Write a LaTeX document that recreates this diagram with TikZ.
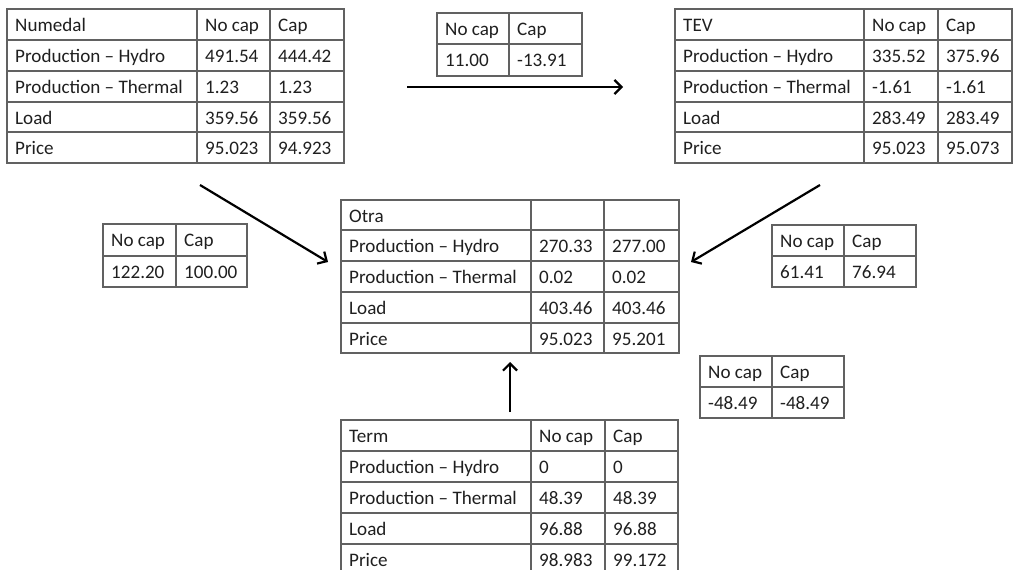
\documentclass[tikz,border=0pt]{standalone}
\usepackage{fontspec}
\setmainfont{Carlito}
\usetikzlibrary{arrows.meta}

% grid lines of one table: x-list, top, bottom, y-list, left, right
\newcommand\tabgrid[6]{%
  \foreach \gx in {#1} \draw[rule] (\gx,#2) -- (\gx,#3);
  \foreach \gy in {#4} \draw[rule] (#5,\gy) -- (#6,\gy);}
% one row of three cells: name, baseline, three x positions, three texts
\newcommand\rowthree[8]{%
  \node[txt] (#1-a) at (#3,#2) {#6};
  \node[txt] (#1-b) at (#4,#2) {#7};
  \node[txt] (#1-c) at (#5,#2) {#8};}
% one row of two cells: name, baseline, two x positions, two texts
\newcommand\rowtwo[6]{%
  \node[txt] (#1-a) at (#3,#2) {#5};
  \node[txt] (#1-b) at (#4,#2) {#6};}

\tikzset{
  rule/.style={draw=black!62, line width=1.1pt, line cap=rect},
  txt/.style={anchor=base west, inner sep=0pt, text=black!88,
              font=\fontsize{19.1}{22}\selectfont},
  flow/.style={draw=black, line width=2.2pt,
               -{Straight Barb[length=7pt,width=14pt,line width=2.2pt]}}
}

\begin{document}
\begin{tikzpicture}[x=1pt,y=-1pt]
\useasboundingbox (0,0) rectangle (1013,570);
\clip (0,0) rectangle (1013,570);

% Numedal
\tabgrid{7,197,270,344}{9}{163}{9,40,71,102,132,163}{7}{344}
\rowthree{num0}{31}{15}{205}{278}{Numedal}{No cap}{Cap}
\rowthree{num1}{62}{15}{205}{278}{Production – Hydro}{491.54}{444.42}
\rowthree{num2}{93}{15}{205}{278}{Production – Thermal}{1.23}{1.23}
\rowthree{num3}{124}{15}{205}{278}{Load}{359.56}{359.56}
\rowthree{num4}{154}{15}{205}{278}{Price}{95.023}{94.923}

% TEV
\tabgrid{675,864,938,1012}{9}{163}{9,40,71,102,132,163}{675}{1012}
\rowthree{tev0}{31}{683}{872}{946}{TEV}{No cap}{Cap}
\rowthree{tev1}{62}{683}{872}{946}{Production – Hydro}{335.52}{375.96}
\rowthree{tev2}{93}{683}{872}{946}{Production – Thermal}{-1.61}{-1.61}
\rowthree{tev3}{124}{683}{872}{946}{Load}{283.49}{283.49}
\rowthree{tev4}{154}{683}{872}{946}{Price}{95.023}{95.073}

% Otra
\tabgrid{341,531,604,679}{200}{353}{200,230,261,292,323,353}{341}{679}
\node[txt] (otra0-a) at (349,222) {Otra};
\rowthree{otra1}{252}{349}{539}{612}{Production – Hydro}{270.33}{277.00}
\rowthree{otra2}{283}{349}{539}{612}{Production – Thermal}{0.02}{0.02}
\rowthree{otra3}{314}{349}{539}{612}{Load}{403.46}{403.46}
\rowthree{otra4}{345}{349}{539}{612}{Price}{95.023}{95.201}

% Term
\tabgrid{341,531,605,678}{420}{575}{420,451,482,513,544,575}{341}{678}
\rowthree{term0}{442}{349}{539}{613}{Term}{No cap}{Cap}
\rowthree{term1}{473}{349}{539}{613}{Production – Hydro}{0}{0}
\rowthree{term2}{504}{349}{539}{613}{Production – Thermal}{48.39}{48.39}
\rowthree{term3}{535}{349}{539}{613}{Load}{96.88}{96.88}
\rowthree{term4}{566}{349}{539}{613}{Price}{98.983}{99.172}

% flow Numedal -> TEV
\tabgrid{437,509,582}{13}{76}{13,44,76}{437}{582}
\rowtwo{fa0}{35}{445}{517}{No cap}{Cap}
\rowtwo{fa1}{66}{445}{517}{11.00}{-13.91}

% flow Numedal -> Otra
\tabgrid{103,176,247}{224}{287}{224,256,287}{103}{247}
\rowtwo{fb0}{246}{111}{184}{No cap}{Cap}
\rowtwo{fb1}{278}{111}{184}{122.20}{100.00}

% flow TEV -> Otra
\tabgrid{772,844,916}{225}{287}{225,256,287}{772}{916}
\rowtwo{fc0}{247}{780}{852}{No cap}{Cap}
\rowtwo{fc1}{278}{780}{852}{61.41}{76.94}

% flow Term -> Otra
\tabgrid{700,772,844}{356}{418}{356,387,418}{700}{844}
\rowtwo{fd0}{378}{708}{780}{No cap}{Cap}
\rowtwo{fd1}{409}{708}{780}{-48.49}{-48.49}

% arrow end points
\coordinate (numOut) at (200,185);
\coordinate (otraInW) at (328,262);
\coordinate (numEast) at (407,87);
\coordinate (tevWest) at (623,87);
\coordinate (tevOut) at (820,185);
\coordinate (otraInE) at (691,262);
\coordinate (termOut) at (510,412);
\coordinate (otraInS) at (510,362);

\draw[flow] (numOut) -- (otraInW);
\draw[flow] (numEast) -- (tevWest);
\draw[flow] (tevOut) -- (otraInE);
\draw[flow] (termOut) -- (otraInS);
\end{tikzpicture}
\end{document}
